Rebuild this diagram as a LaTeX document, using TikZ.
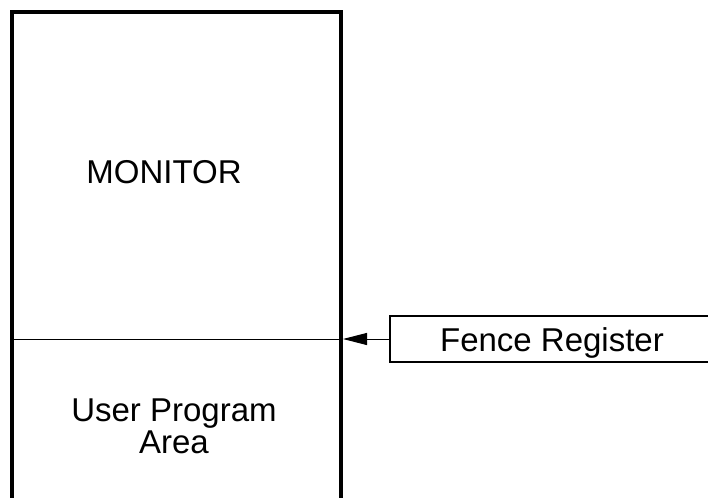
\documentclass[tikz,border=0pt]{standalone}
\usepackage{fontspec}
\setmainfont{Liberation Sans}
\usetikzlibrary{arrows.meta, positioning, calc}
\definecolor{mydark}{RGB}{0,0,0}
\tikzset{
  memblock/.style={rectangle, draw=mydark, line width=2pt,
    minimum width=164.5pt, minimum height=260pt, anchor=north west},
  regblock/.style={rectangle, draw=mydark, line width=0.6pt,
    minimum width=162pt, minimum height=23pt},
  label/.style={font=\fontsize{16.5}{16}\selectfont, align=center, inner sep=0pt},
  arrow/.style={-{Triangle[length=12pt, width=6pt]}, line width=0.5pt, color=mydark},
  line/.style={line width=0.5pt, color=mydark}
}
\begin{document}
\begin{tikzpicture}[x=0.5pt, y=-0.5pt]
  \useasboundingbox (0,0) rectangle (708,498);
  % Memory
  \node[memblock] (memory) at (10,10) {};
  \node[label] (monitor) at (164,172) {MONITOR};
  \node[label] (user) at (174,426) {User Program\\Area};

  % Fence register
  \node[regblock] (fence) at (552,339) {};
  \node[label] (fencetext) at (552,343) {Fence Register};

  % Boundary and pointer
  \draw[line] (memory.west |- fence.west) -- (memory.east |- fence.west);
  \draw[arrow] (fence.west) -- (memory.east |- fence.west);
\end{tikzpicture}
\end{document}
